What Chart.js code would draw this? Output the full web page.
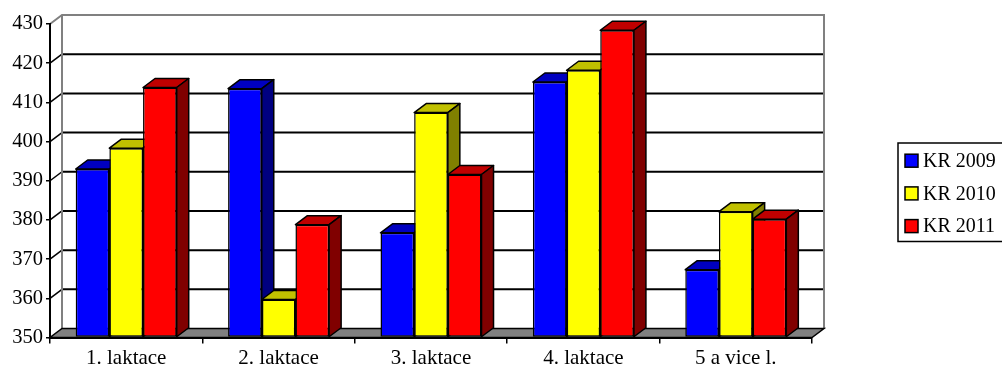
<!DOCTYPE html>
<html>
<head>
<meta charset="utf-8">
<script src="https://cdn.jsdelivr.net/npm/chart.js@4.4.1/dist/chart.umd.min.js"></script>
<style>
    html, body { margin: 0; padding: 0; background: #fff; }
    #wrap { width: 1002px; height: 367px; position: relative; }
</style>
</head>
<body>
<div id="wrap"><canvas id="barChartCanvas"></canvas></div>
<script>
const categories = ["1. laktace", "2. laktace", "3. laktace", "4. laktace", "5 a vice l."];
const seriesLabels = ["KR 2009", "KR 2010", "KR 2011"];
const kr2009 = [393.0, 413.5, 376.7, 415.2, 367.3];
const kr2010 = [398.3, 359.7, 407.4, 418.2, 382.1];
const kr2011 = [413.8, 378.8, 391.6, 428.4, 380.2];
const yMin = 350;
const yMax = 430;
const yStep = 10;

const frontColors = ["#0000ff", "#ffff00", "#ff0000"];
const topColors = ["#0000c0", "#c0c000", "#c00000"];
const sideColors = ["#000080", "#808000", "#800000"];

// posun zadni roviny (hloubka 3D)
const DX = 12;
const DY = -9;
const FONT = '"Liberation Serif", "Times New Roman", serif';

function poly(ctx, pts) {
    ctx.beginPath();
    ctx.moveTo(pts[0][0], pts[0][1]);
    for (let i = 1; i < pts.length; i++) ctx.lineTo(pts[i][0], pts[i][1]);
    ctx.closePath();
}

const depthPlugin = {
    id: "depth3d",
    beforeDraw(chart) {
        const { ctx, chartArea: a } = chart;
        const y = chart.scales.y;
        ctx.save();

        // steny
        ctx.fillStyle = "#fff";
        poly(ctx, [[a.left, a.top], [a.left + DX, a.top + DY], [a.left + DX, a.bottom + DY], [a.left, a.bottom]]);
        ctx.fill();
        ctx.fillRect(a.left + DX, a.top + DY, a.right - a.left, a.bottom - a.top);

        // mrizka na zadni stene + sikme znacky osy
        ctx.strokeStyle = "#000";
        for (let v = yMin + yStep; v < yMax; v += yStep) {
            const yy = y.getPixelForValue(v);
            ctx.lineWidth = 2;
            ctx.beginPath();
            ctx.moveTo(a.left + DX, yy + DY);
            ctx.lineTo(a.right + DX, yy + DY);
            ctx.stroke();
            ctx.lineWidth = 1.5;
            ctx.beginPath();
            ctx.moveTo(a.left, yy);
            ctx.lineTo(a.left + DX, yy + DY);
            ctx.stroke();
        }

        // obrys sten
        ctx.strokeStyle = "#808080";
        ctx.lineWidth = 2;
        ctx.beginPath();
        ctx.moveTo(a.left, a.top);
        ctx.lineTo(a.left + DX, a.top + DY);
        ctx.lineTo(a.right + DX, a.top + DY);
        ctx.lineTo(a.right + DX, a.bottom + DY);
        ctx.moveTo(a.left + DX, a.top + DY);
        ctx.lineTo(a.left + DX, a.bottom + DY);
        ctx.stroke();

        // podlaha
        ctx.fillStyle = "#808080";
        ctx.strokeStyle = "#000";
        ctx.lineWidth = 1.5;
        poly(ctx, [[a.left, a.bottom], [a.right, a.bottom], [a.right + DX, a.bottom + DY], [a.left + DX, a.bottom + DY]]);
        ctx.fill();
        ctx.stroke();
        ctx.restore();
    },
    beforeDatasetsDraw(chart) {
        // horni a bocni steny sloupcu, zleva doprava
        const ctx = chart.ctx;
        const metas = chart.data.datasets.map((d, i) => chart.getDatasetMeta(i));
        ctx.save();
        ctx.strokeStyle = "#000";
        ctx.lineWidth = 1.5;
        ctx.lineJoin = "round";
        for (let c = 0; c < categories.length; c++) {
            metas.forEach((meta, s) => {
                const bar = meta.data[c];
                const p = bar.getProps(["x", "y", "base", "width"], true);
                const L = p.x - p.width / 2;
                const R = p.x + p.width / 2;
                ctx.fillStyle = topColors[s];
                poly(ctx, [[L, p.y], [R, p.y], [R + DX, p.y + DY], [L + DX, p.y + DY]]);
                ctx.fill();
                ctx.stroke();
                ctx.fillStyle = sideColors[s];
                poly(ctx, [[R, p.y], [R + DX, p.y + DY], [R + DX, p.base + DY], [R, p.base]]);
                ctx.fill();
                ctx.stroke();
            });
        }
        ctx.restore();
    },
    afterDraw(chart) {
        // legenda vpravo
        const ctx = chart.ctx;
        ctx.save();
        ctx.strokeStyle = "#000";
        ctx.lineWidth = 1.5;
        ctx.strokeRect(898, 143, 112, 98.5);
        ctx.font = "20px " + FONT;
        ctx.textBaseline = "middle";
        chart.data.datasets.forEach((ds, i) => {
            const cy = 160.7 + i * 32.7;
            ctx.fillStyle = ds.backgroundColor;
            ctx.fillRect(905, cy - 6.5, 13, 13);
            ctx.strokeRect(905, cy - 6.5, 13, 13);
            ctx.fillStyle = "#000";
            ctx.fillText(ds.label, 923, cy + 1);
        });
        ctx.restore();
    }
};

const values = [kr2009, kr2010, kr2011];

new Chart(document.getElementById("barChartCanvas"), {
    type: "bar",
    data: {
        labels: categories,
        datasets: values.map((v, i) => ({
            label: seriesLabels[i],
            data: v,
            base: yMin,
            backgroundColor: frontColors[i],
            borderColor: "#000",
            borderWidth: 1.5,
            borderSkipped: false,
            categoryPercentage: 0.663,
            barPercentage: 1.0
        }))
    },
    options: {
        responsive: true,
        maintainAspectRatio: false,
        animation: false,
        layout: { padding: { top: 24, right: 190, bottom: 0, left: 0 } },
        plugins: {
            legend: { display: false },
            tooltip: { enabled: false }
        },
        scales: {
            x: {
                grid: { display: true, drawOnChartArea: false, tickLength: 6, color: "#000", lineWidth: 1.5 },
                border: { display: true, color: "#000", width: 2 },
                ticks: { color: "#000", font: { family: FONT, size: 21 }, padding: 2, maxRotation: 0 },
                afterFit: function (scale) { scale.height = 29.5; }
            },
            y: {
                min: yMin,
                max: yMax,
                ticks: { stepSize: yStep, color: "#000", font: { family: FONT, size: 20.5 }, padding: 3 },
                grid: { display: true, drawOnChartArea: false, tickLength: 4, color: "#000", lineWidth: 1.5 },
                border: { display: true, color: "#000", width: 2 },
                afterFit: function (scale) { scale.width = 50; }
            }
        }
    },
    plugins: [depthPlugin]
});
</script>
</body>
</html>
